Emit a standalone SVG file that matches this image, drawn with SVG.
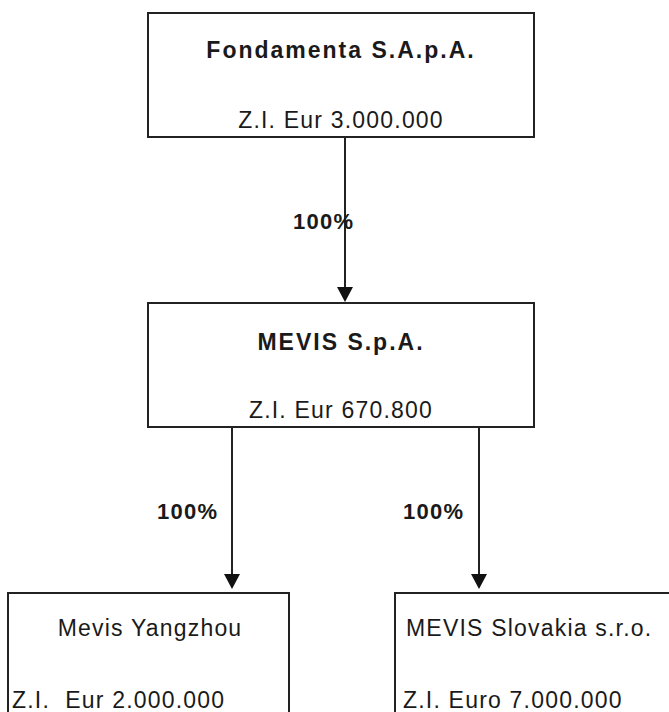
<svg xmlns="http://www.w3.org/2000/svg" width="669" height="712" viewBox="0 0 669 712">
<style>
.box{fill:#fff;stroke:#222;stroke-width:2}
.t{font-family:"Liberation Sans",Arial,sans-serif;font-size:23px;fill:#1a1a1a;letter-spacing:1.2px}
.b{font-weight:bold;letter-spacing:2px}
.c{text-anchor:middle}
.ln{stroke:#222;stroke-width:2;fill:none}
.ah{fill:#111}
.pc{font-family:"Liberation Sans",Arial,sans-serif;font-size:22px;font-weight:bold;fill:#1a1a1a;letter-spacing:1.3px}
</style>
<rect width="669" height="712" fill="#fff"/>
<g id="connectors">
<line class="ln" x1="345" y1="138" x2="345" y2="290"/>
<line class="ln" x1="232" y1="428" x2="232" y2="578"/>
<line class="ln" x1="479" y1="428" x2="479" y2="578"/>
<path class="ah" d="M337,287 L353,287 L345,302 Z"/>
<path class="ah" d="M224,574 L240,574 L232,589 Z"/>
<path class="ah" d="M471,574 L487,574 L479,589 Z"/>
<text class="pc" x="293" y="229">100%</text>
<text class="pc" x="157" y="519">100%</text>
<text class="pc" x="403" y="519">100%</text>
</g>
<g id="fondamenta">
<rect class="box" x="148" y="13" width="386" height="124"/>
<text class="t b c" x="341" y="58">Fondamenta S.A.p.A.</text>
<text class="t c" x="341" y="128">Z.I. Eur 3.000.000</text>
</g>
<g id="mevis">
<rect class="box" x="148" y="303" width="386" height="124"/>
<text class="t b c" x="341" y="350">MEVIS S.p.A.</text>
<text class="t c" x="341" y="418">Z.I. Eur 670.800</text>
</g>
<g id="yangzhou">
<rect class="box" x="8" y="593" width="281" height="130"/>
<text class="t c" x="150" y="636">Mevis Yangzhou</text>
<text class="t" x="12" y="708" xml:space="preserve">Z.I.  Eur 2.000.000</text>
</g>
<g id="slovakia">
<rect class="box" x="395" y="593" width="290" height="130"/>
<text class="t" x="406" y="636">MEVIS Slovakia s.r.o.</text>
<text class="t" x="403" y="708">Z.I. Euro 7.000.000</text>
</g>
</svg>
